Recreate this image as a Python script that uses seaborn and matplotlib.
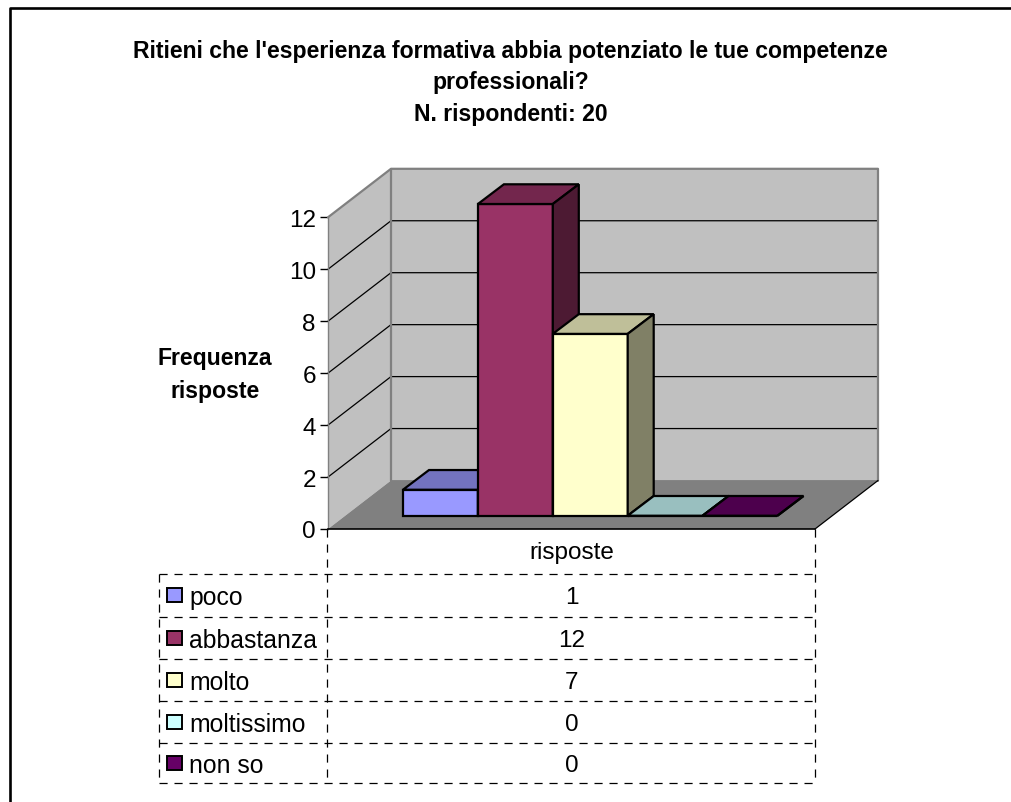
import matplotlib
matplotlib.use("Agg")
import matplotlib.pyplot as plt
import pandas as pd
import seaborn as sns
from matplotlib.patches import Polygon, Rectangle

categorie = ["poco", "abbastanza", "molto", "moltissimo", "non so"]
frequenze = [1, 12, 7, 0, 0]
colori = ["#9999FF", "#993366", "#FFFFCC", "#CCFFFF", "#660066"]
colori_top = ["#7373BF", "#73264D", "#BFBF99", "#99BFBF", "#4D004D"]
colori_lato = ["#4D4D80", "#4D1A33", "#808066", "#668080", "#330033"]
y_ticks = [0, 2, 4, 6, 8, 10, 12]
titolo = "Ritieni che l'esperienza formativa abbia potenziato le tue competenze\nprofessionali?\nN. rispondenti: 20"
y_label = "Frequenza\nrisposte"
x_label = "risposte"

W, H = 1012, 803
sns.set_theme(style="white")
plt.rcParams["font.family"] = ["Liberation Sans", "DejaVu Sans"]

fig = plt.figure(figsize=(W / 100, H / 100), dpi=100)

# piano frontale del grafico, in pixel dell'immagine
X0, X1, Y0, Y12 = 328, 815, 530, 218.3
PX_CAT = 74.9
PX_VAL = (Y0 - Y12) / 12
ax = fig.add_axes([X0 / W, 1 - Y0 / H, (X1 - X0) / W, (Y0 - Y12) / H])
ax.patch.set_alpha(0)
ax.set_zorder(2)

df = pd.DataFrame({"risposta": categorie, "frequenza": frequenze})
sns.barplot(data=df, x="risposta", y="frequenza", hue="risposta", palette=colori,
            width=1, dodge=False, legend=False, saturation=1,
            edgecolor="black", linewidth=1.6, ax=ax)

xmin = -0.5 - (403 - 17.3 - X0) / PX_CAT
ax.set_xlim(xmin, xmin + (X1 - X0) / PX_CAT)
ax.set_ylim(0, 12)
ax.set_yticks(y_ticks)
ax.set_xticks([])
ax.set_xlabel("")
ax.set_ylabel("")
ax.tick_params(axis="y", left=True, length=5.8, width=1, color="black", pad=3,
               labelsize=17.5, labelcolor="black")
ax.grid(False)
for nome in ["top", "right"]:
    ax.spines[nome].set_visible(False)
ax.spines["left"].set_color("#808080")
ax.spines["left"].set_linewidth(1)
ax.spines["bottom"].set_color("black")
ax.spines["bottom"].set_linewidth(1.2)

# profondita' di pareti e barre (in unita' dei dati)
wx, wy = 63 / PX_CAT, 48.5 / PX_VAL
bx, by = 26 / PX_CAT, 19.7 / PX_VAL
sx, sy = 17.3 / PX_CAT, 13.3 / PX_VAL
xa, xb = ax.get_xlim()
ymax = y_ticks[-1]


def faccia(punti, fc, ec="none", lw=0, z=1):
    ax.add_patch(Polygon(punti, closed=True, facecolor=fc, edgecolor=ec, linewidth=lw,
                         clip_on=False, zorder=z, joinstyle="miter"))


# pareti e pavimento
faccia([(xa + wx, wy), (xb + wx, wy), (xb + wx, ymax + wy), (xa + wx, ymax + wy)], "#C0C0C0")
faccia([(xa, 0), (xa + wx, wy), (xa + wx, ymax + wy), (xa, ymax)], "#C0C0C0")
faccia([(xa, 0), (xb, 0), (xb + wx, wy), (xa + wx, wy)], "#808080")
for v in y_ticks[1:-1]:
    ax.plot([xa, xa + wx, xb + wx], [v, v + wy, v + wy], color="black", lw=0.9,
            clip_on=False, zorder=1.5)
ax.plot([xa, xa + wx, xb + wx, xb + wx], [ymax, ymax + wy, ymax + wy, wy], color="#808080",
        lw=1.6, clip_on=False, zorder=1.5)
ax.plot([xa + wx, xa + wx], [wy, ymax + wy], color="#808080", lw=1.6, clip_on=False, zorder=1.5)
ax.plot([xa + wx, xb + wx], [wy, wy], color="#808080", lw=1.2, clip_on=False, zorder=1.5)
ax.plot([xb, xb + wx], [0, wy], color="black", lw=0.9, clip_on=False, zorder=1.6)

# barre: fronte da seaborn, spostato in profondita', piu' tetto e lato
for i, bar in enumerate(ax.patches[:len(categorie)]):
    z = 3 + i
    bar.set_x(bar.get_x() + sx)
    bar.set_y(sy)
    bar.set_zorder(z)
    bar.set_clip_on(False)
    bar.set_joinstyle("miter")
    x0 = bar.get_x()
    x1 = x0 + bar.get_width()
    top = sy + bar.get_height()
    faccia([(x0, top), (x1, top), (x1 + bx, top + by), (x0 + bx, top + by)], colori_top[i],
           "black", 1.6, z)
    faccia([(x1, sy), (x1 + bx, sy + by), (x1 + bx, top + by), (x1, top)], colori_lato[i],
           "black", 1.6, z)

# livello in pixel per cornice, testi e tabella
bg = fig.add_axes([0, 0, 1, 1])
bg.set_xlim(0, W)
bg.set_ylim(H, 0)
bg.axis("off")
bg.set_zorder(1)

# la cornice non ha il lato destro
bg.plot([10, 10, W], [H, 8.5, 8.5], color="black", lw=1.9)

bg.text(510.5, 83, titolo, ha="center", va="center", fontsize=16.6, fontweight="bold",
        linespacing=1.45, color="black")
bg.text(215, 375, y_label, ha="center", va="center", fontsize=16.6, fontweight="bold",
        linespacing=1.52, color="black")

righe = [574.5, 618.3, 660.3, 702.3, 744.3, 784.3]
col_sx, col_mid, col_dx = 159.5, 327.5, 815.5
trat = dict(color="black", lw=0.9, linestyle=(0, (6.5, 5.5)))
for r in righe:
    bg.plot([col_sx, col_dx], [r, r], **trat)
bg.plot([col_sx, col_sx], [righe[0], righe[-1]], **trat)
bg.plot([col_mid, col_mid], [Y0, righe[-1]], **trat)
bg.plot([col_dx, col_dx], [Y0, righe[-1]], **trat)

bg.text((col_mid + col_dx) / 2, (Y0 + righe[0]) / 2 + 1, x_label, ha="center", va="center",
        fontsize=17.5, color="black")
for i, (cat, val) in enumerate(zip(categorie, frequenze)):
    yc = (righe[i] + righe[i + 1]) / 2
    bg.add_patch(Rectangle((167, yc - 7), 15, 14, facecolor=colori[i], edgecolor="black", lw=1.4))
    bg.text(189, yc + 2, cat, ha="left", va="center", fontsize=17.8, color="black")
    bg.text((col_mid + col_dx) / 2, yc + 2, str(val), ha="center", va="center", fontsize=17.5,
            color="black")

fig.savefig("out.png", dpi=100, facecolor="white")
